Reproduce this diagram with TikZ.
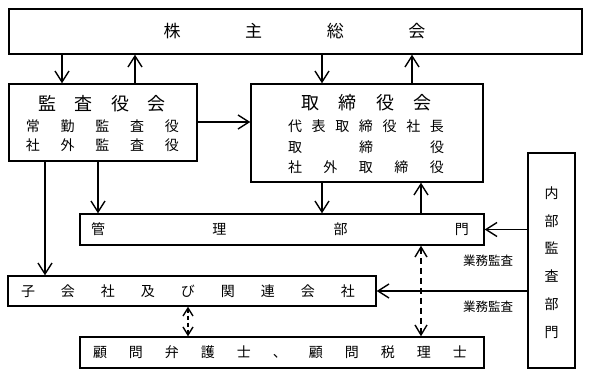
\documentclass[tikz,border=0pt]{standalone}
\usepackage{fontspec}
\newfontfamily\cjk{Noto Sans CJK JP}
\usetikzlibrary{arrows.meta}
\begin{document}
\begin{tikzpicture}[x=1pt,y=-1pt,
  box/.style={draw,line width=1.4pt,minimum width=#1,inner sep=0pt},
  spreadline/.style={text width=#1,inner sep=0pt,outer sep=0pt},
  big/.style={font=\cjk\fontsize{17}{17}\selectfont},
  mid/.style={font=\cjk\fontsize{14}{14}\selectfont},
  small/.style={font=\cjk\fontsize{12.5}{12.5}\selectfont},
  conn/.style={line width=1.4pt,-{Straight Barb[length=11pt,width=14pt,line width=1.4pt]}},
  dconn/.style={line width=1.4pt,dashed,dash pattern=on 6pt off 4pt,{Straight Barb[length=10pt,width=12pt,line width=1.4pt]}-{Straight Barb[length=10pt,width=12pt,line width=1.4pt]}},
  sconn/.style={line width=1.4pt,dashed,dash pattern=on 4pt off 3pt,{Straight Barb[length=8pt,width=10pt,line width=1.4pt]}-{Straight Barb[length=8pt,width=10pt,line width=1.4pt]}}
]
\useasboundingbox (0,0) rectangle (590,376);
% boxes
\node[box=573pt,minimum height=45pt] (top) at (295.5,31.5) {};
\node[box=188pt,minimum height=77pt] (kansa) at (103,122.5) {};
\node[box=232pt,minimum height=98pt] (tori) at (367,133) {};
\node[box=404pt,minimum height=31pt] (kanri) at (282,229.5) {};
\node[box=368pt,minimum height=30pt] (ko) at (192,291) {};
\node[box=404pt,minimum height=31pt] (komon) at (282,352.5) {};
\node[box=47pt,minimum height=215pt] (naibu) at (551.5,260.5) {};
% texts
\node[spreadline=262pt,big] (t1) at (294.5,31.5) {株\hfill 主\hfill 総\hfill 会};
\node[spreadline=128pt,font=\cjk\fontsize{18}{18}\selectfont] (k1) at (102,104) {監\hfill 査\hfill 役\hfill 会};
\node[spreadline=153pt,mid] (k2) at (102.5,126) {常\hfill 勤\hfill 監\hfill 査\hfill 役};
\node[spreadline=153pt,mid] (k3) at (102.5,145) {社\hfill 外\hfill 監\hfill 査\hfill 役};
\node[spreadline=131pt,font=\cjk\fontsize{18}{18}\selectfont] (r1) at (366.5,103) {取\hfill 締\hfill 役\hfill 会};
\node[spreadline=156pt,mid] (r2) at (366,126) {代\hfill 表\hfill 取\hfill 締\hfill 役\hfill 社\hfill 長};
\node[spreadline=156pt,mid] (r3) at (366,147) {取\hfill 締\hfill 役};
\node[spreadline=156pt,mid] (r4) at (366,167) {社\hfill 外\hfill 取\hfill 締\hfill 役};
\node[spreadline=378pt,mid] (m1) at (280,229.5) {管\hfill 理\hfill 部\hfill 門};
\node[spreadline=334pt,mid] (c1) at (188,291) {子\hfill 会\hfill 社\hfill 及\hfill び\hfill 関\hfill 連\hfill 会\hfill 社};
\node[spreadline=374pt,mid] (a1) at (280,352.5) {顧\hfill 問\hfill 弁\hfill 護\hfill 士\hfill 、\hfill 顧\hfill 問\hfill 税\hfill 理\hfill 士};
\node[inner sep=0pt,align=center,font=\cjk\fontsize{14}{27.8}\selectfont] (n1) at (551.5,262.5) {内\\部\\監\\査\\部\\門};
\node[small,inner sep=0pt] (g1) at (488,261) {業務監査};
\node[small,inner sep=0pt] (g2) at (488,307) {業務監査};
% connectors
\draw[conn] (top.south -| 62,0) -- (kansa.north -| 62,0);
\draw[conn] (kansa.north -| 135,0) -- (top.south -| 135,0);
\draw[conn] (top.south -| 322,0) -- (tori.north -| 322,0);
\draw[conn] (tori.north -| 412,0) -- (top.south -| 412,0);
\draw[conn] (kansa.east |- 0,122) -- (tori.west |- 0,122);
\draw[conn] (kansa.south -| 98,0) -- (kanri.north -| 98,0);
\draw[conn] (kansa.south -| 45,0) -- (ko.north -| 45,0);
\draw[conn] (tori.south -| 322,0) -- (kanri.north -| 322,0);
\draw[conn] (kanri.north -| 421,0) -- (tori.south -| 421,0);
\draw[conn] (naibu.west |- kanri.east) -- (kanri.east);
\draw[conn] (naibu.west |- ko.east) -- (ko.east);
\draw[dconn] (kanri.south -| 421,0) -- (komon.north -| 421,0);
\draw[sconn] (ko.south -| 188,0) -- (komon.north -| 188,0);
\end{tikzpicture}
\end{document}
